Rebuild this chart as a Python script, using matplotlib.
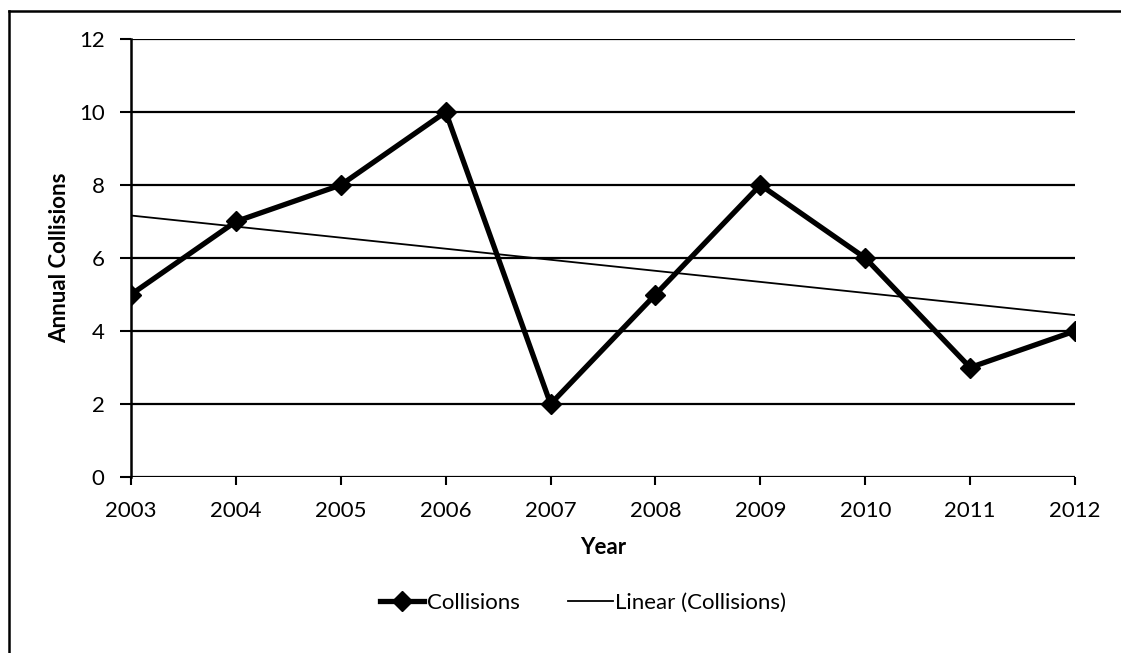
import numpy as np
import matplotlib
matplotlib.use("Agg")
import matplotlib.pyplot as plt
from matplotlib.lines import Line2D

plt.rcParams["font.family"] = ["Lato", "DejaVu Sans"]

years = [2003, 2004, 2005, 2006, 2007, 2008, 2009, 2010, 2011, 2012]
collisions = [5, 7, 8, 10, 2, 5, 8, 6, 3, 4]
y_ticks = [0, 2, 4, 6, 8, 10, 12]

# least-squares trend, like Excel's "Linear (Collisions)"
slope, icpt = np.polyfit(years, collisions, 1)
trend = [slope * x + icpt for x in years]

fig = plt.figure(figsize=(11.21, 6.53), dpi=100)
ax = fig.add_axes([0.1169, 0.2695, 0.9590 - 0.1169, 0.9403 - 0.2695])

ax.plot(years, collisions, color="black", lw=3.8, marker="D", ms=10, label="Collisions", zorder=3)
ax.plot(years, trend, color="black", lw=1.3, label="Linear (Collisions)", zorder=2)

ax.set_xlim(years[0], years[-1]); ax.set_ylim(0, 12)
ax.set_xticks(years); ax.set_yticks(y_ticks)
ax.grid(axis="y", color="black", lw=1.6)
ax.set_axisbelow(True)
for s in ["top", "right", "bottom"]:
    ax.spines[s].set_visible(False)
ax.spines["left"].set_linewidth(1.8)
ax.tick_params(axis="y", length=8, width=1.5, labelsize=16, pad=11)
ax.tick_params(axis="x", length=6, width=1.5, labelsize=16, pad=11)
ax.set_xlabel("Year", fontsize=16, weight="bold", labelpad=12)
ax.set_ylabel("Annual Collisions", fontsize=16, weight="bold", labelpad=6)

fig.legend(handles=ax.get_lines(), loc="center", bbox_to_anchor=(0.52, 0.077), ncol=2,
           frameon=False, fontsize=16, handlelength=2.0, handletextpad=0.1, columnspacing=2.2)

# outer frame (left + top edges visible in the scan)
fig.add_artist(Line2D([0.008, 0.008], [0, 0.983], color="black", lw=1.8, transform=fig.transFigure))
fig.add_artist(Line2D([0.008, 1.0], [0.983, 0.983], color="black", lw=1.8, transform=fig.transFigure))

fig.savefig("out.png", dpi=100)
